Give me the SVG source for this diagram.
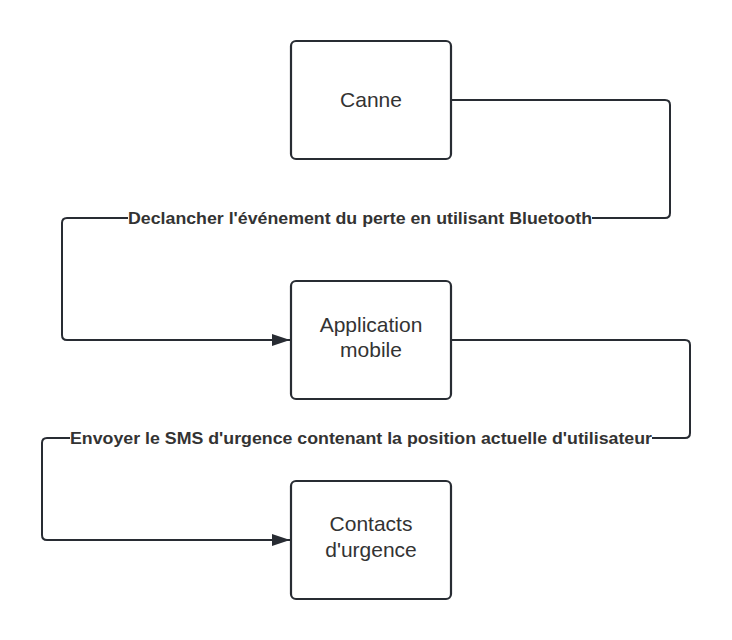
<svg xmlns="http://www.w3.org/2000/svg" width="732" height="640" viewBox="0 0 732 640">
<defs>
<style>
.box{fill:#ffffff;stroke:#282c33;stroke-width:2.2}
.t{font-family:"Liberation Sans",Arial,sans-serif;font-size:21px;fill:#333333;text-anchor:middle}
.lbl{font-family:"Liberation Sans",Arial,sans-serif;font-size:17px;font-weight:bold;fill:#333333;text-anchor:middle}
.c{fill:none;stroke:#282c33;stroke-width:2}
.lbg{fill:#ffffff}
</style>
<marker id="arr" viewBox="0 0 18 12" refX="18" refY="6" markerWidth="18" markerHeight="12" markerUnits="userSpaceOnUse" orient="auto">
<path d="M0,0 L18,6 L0,12 Z" fill="#282c33"/>
</marker>
</defs>
<rect width="732" height="640" fill="#ffffff"/>
<g id="connectors">
<path class="c" d="M452,100 H665 Q670,100 670,105 V213 Q670,218 665,218 H67 Q62,218 62,223 V335 Q62,340 67,340 H290" marker-end="url(#arr)"/>
<path class="c" d="M452,340 H685 Q690,340 690,345 V433 Q690,438 685,438 H47 Q42,438 42,443 V535 Q42,540 47,540 H290" marker-end="url(#arr)"/>
<rect class="lbg" x="128" y="208" width="464" height="20"/>
<text class="lbl" x="360" y="223.5" textLength="464" lengthAdjust="spacingAndGlyphs">Declancher l'événement du perte en utilisant Bluetooth</text>
<rect class="lbg" x="70" y="428" width="582" height="20"/>
<text class="lbl" x="361" y="443.5" textLength="582" lengthAdjust="spacingAndGlyphs">Envoyer le SMS d'urgence contenant la position actuelle d'utilisateur</text>
</g>
<g id="canne">
<rect class="box" x="291" y="41" width="160" height="118" rx="5"/>
<text class="t" x="371" y="107">Canne</text>
</g>
<g id="application-mobile">
<rect class="box" x="291" y="281" width="160" height="118" rx="5"/>
<text class="t" x="371" y="332">Application</text>
<text class="t" x="371" y="357">mobile</text>
</g>
<g id="contacts-urgence">
<rect class="box" x="291" y="481" width="160" height="118" rx="5"/>
<text class="t" x="371" y="531">Contacts</text>
<text class="t" x="371" y="557">d'urgence</text>
</g>
</svg>
